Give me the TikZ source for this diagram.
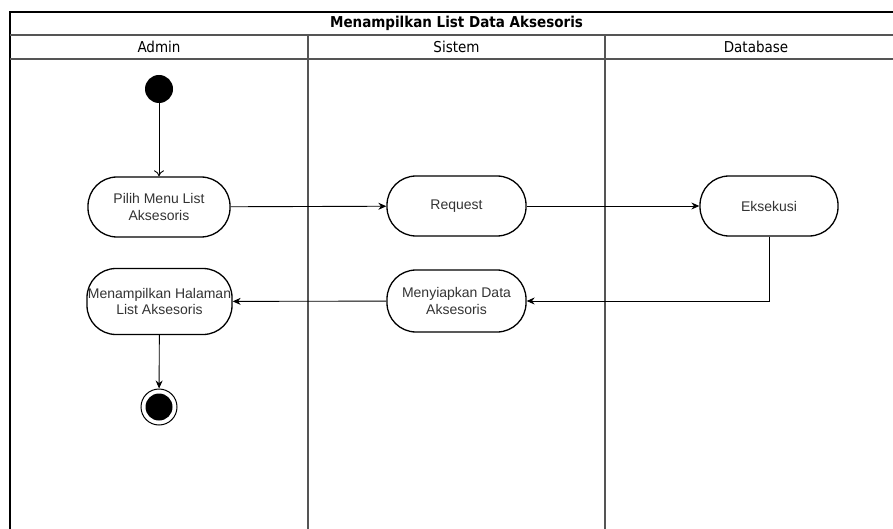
\documentclass[tikz,border=0pt]{standalone}
\usepackage{fontspec}
\setmainfont{Liberation Sans}
\newfontfamily\hdrfont{DejaVu Sans Condensed}
\usetikzlibrary{arrows.meta}
\definecolor{txt}{HTML}{333333}
\definecolor{lanegray}{HTML}{555555}
\tikzset{
  act/.style={draw=black, line width=1.3pt, rounded corners=29pt, minimum width=140pt, minimum height=60pt, align=center, font=\fontsize{14}{16.5}\selectfont, text=txt, inner sep=1pt},
  flow/.style={draw=black, line width=0.9pt, -{Stealth[length=8pt,width=7pt]}},
  openflow/.style={draw=black, line width=0.9pt, -{To[length=6pt,width=10pt]}},
  lane/.style={draw=lanegray, line width=1.1pt},
  hdr/.style={font=\hdrfont\fontsize{15}{17}\selectfont, text=black}
}
\begin{document}
\begin{tikzpicture}[x=1pt,y=-1pt]
\useasboundingbox (0,0) rectangle (893,529);
% swimlane frame
\draw[line width=1.4pt] (10,529) -- (10,12) -- (893,12);
\draw[lane] (10,35) -- (893,35);
\draw[lane] (10,59) -- (893,59);
\draw[lane] (308,35) -- (308,529);
\draw[lane] (605,35) -- (605,529);
\node[hdr, font=\hdrfont\bfseries\fontsize{15}{17}\selectfont] (title) at (456.5,23.5) {Menampilkan List Data Aksesoris};
\node[hdr] (lAdmin) at (159,47) {Admin};
\node[hdr] (lSistem) at (456.5,47) {Sistem};
\node[hdr] (lDb) at (756,47) {Database};
% nodes
\node[circle, fill=black, minimum size=28pt, inner sep=0pt] (start) at (159,89) {};
\node[act, minimum width=142pt] (pilih) at (159,207) {Pilih Menu List\\Aksesoris};
\node[act, minimum width=139pt] (req) at (456.5,206) {Request};
\node[act, minimum width=138pt] (eks) at (769,206) {Eksekusi};
\node[act, minimum width=139pt, minimum height=62pt] (siap) at (456.5,301) {Menyiapkan Data\\Aksesoris};
\node[act, minimum width=145pt, minimum height=66pt, inner sep=0pt] (tampil) at (159.5,301.5) {Menampilkan Halaman\\List Aksesoris};
\node[circle, draw=black, line width=1pt, minimum size=36pt, inner sep=0pt] (end) at (159,407) {};
\node[circle, fill=black, minimum size=27pt, inner sep=0pt] (endin) at (end) {};
% connectors
\draw[openflow] (start) -- (pilih);
\draw[flow] (pilih) -- (req);
\draw[flow] (req) -- (eks);
\draw[flow] (eks.south) |- (siap.east);
\draw[flow] (siap) -- (tampil);
\draw[flow] (tampil) -- (end);
\end{tikzpicture}
\end{document}
